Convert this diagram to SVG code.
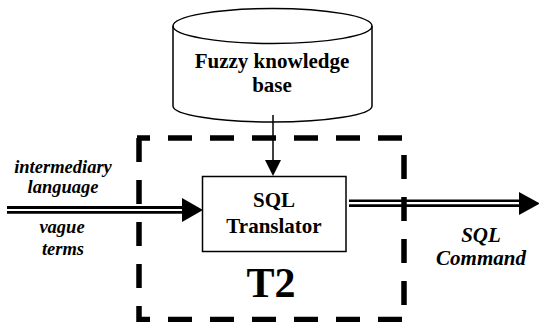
<svg xmlns="http://www.w3.org/2000/svg" width="539" height="322" viewBox="0 0 539 322">
<style>
.lbl{font-family:'Liberation Serif','Times New Roman',Times,serif;font-weight:bold;fill:#000;text-anchor:middle}
.it{font-style:italic;font-size:18.5px}
.thin{stroke:#000;fill:none}
.dash{stroke:#000;stroke-width:5.5;fill:none;stroke-dasharray:24 18}
</style>
<rect width="539" height="322" fill="#fff"/>
<g id="t2-boundary">
<line class="dash" x1="137" y1="138" x2="404" y2="138" stroke-dashoffset="11"/>
<line class="dash" x1="139" y1="138" x2="139" y2="322"/>
<line class="dash" x1="137" y1="319.5" x2="404" y2="319.5" stroke-dashoffset="11"/>
<line class="dash" x1="404" y1="138" x2="404" y2="322" stroke-dashoffset="25"/>
<text class="lbl" x="271" y="297" font-size="42">T2</text>
</g>
<g id="connectors">
<line class="thin" x1="273" y1="115" x2="273" y2="162" stroke-width="1.5"/>
<polygon points="265,160 281,160 273,176" fill="#000"/>
<line class="thin" x1="7" y1="207.5" x2="184" y2="207.5" stroke-width="2.8"/>
<line class="thin" x1="7" y1="212.3" x2="184" y2="212.3" stroke-width="2.8"/>
<polygon points="182,198 182,222 203,210" fill="#000"/>
<line class="thin" x1="349" y1="200.8" x2="521" y2="200.8" stroke-width="2.6"/>
<line class="thin" x1="349" y1="205.6" x2="521" y2="205.6" stroke-width="2.6"/>
<polygon points="519,192 519,215 540,203.5" fill="#000"/>
</g>
<g id="fuzzy-kb">
<path class="thin" stroke-width="1.5" fill="#fff" d="M173,26 V106 A99.5,16 0 0 0 372,106 V26 A99.5,17.5 0 0 0 173,26 Z"/>
<path class="thin" stroke-width="1.5" d="M173,26 A99.5,17.5 0 0 0 372,26"/>
<text class="lbl" x="272" y="68" font-size="21">Fuzzy knowledge</text>
<text class="lbl" x="272" y="92" font-size="21">base</text>
</g>
<g id="sql-translator">
<rect x="202.5" y="176.5" width="143.5" height="75" fill="#fff" stroke="#000" stroke-width="1.5"/>
<text class="lbl" x="274" y="207" font-size="21">SQL</text>
<text class="lbl" x="274" y="233" font-size="21">Translator</text>
</g>
<g id="input-labels">
<text class="lbl it" x="63" y="173">intermediary</text>
<text class="lbl it" x="63" y="193">language</text>
<text class="lbl it" x="62" y="233">vague</text>
<text class="lbl it" x="63" y="255">terms</text>
</g>
<g id="output-labels">
<text class="lbl" x="481" y="241.5" font-size="21" font-style="italic">SQL</text>
<text class="lbl" x="481" y="265" font-size="21" font-style="italic">Command</text>
</g>
</svg>
